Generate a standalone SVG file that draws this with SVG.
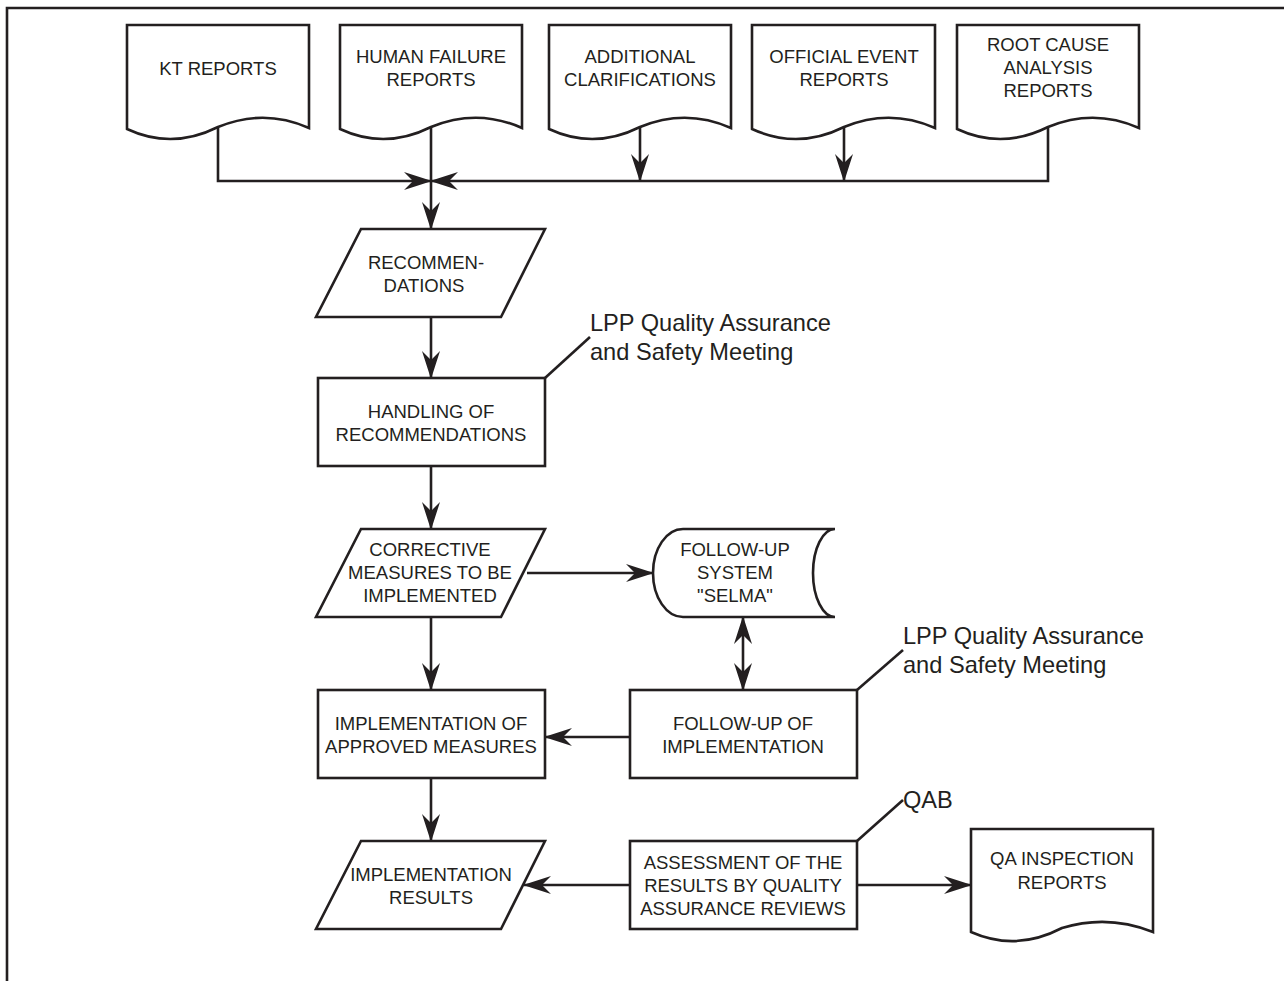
<svg xmlns="http://www.w3.org/2000/svg" width="1284" height="981" viewBox="0 0 1284 981">
<style>
.s{fill:#fff;stroke:#231f20;stroke-width:2.6;stroke-linejoin:miter}
.c{fill:none;stroke:#231f20;stroke-width:2.6}
.t{font-family:"Liberation Sans",Arial,sans-serif;font-size:18.5px;fill:#231f20;text-anchor:middle}
.a{font-family:"Liberation Sans",Arial,sans-serif;font-size:23.6px;fill:#231f20}
</style>
<defs>
<marker id="ah" markerUnits="userSpaceOnUse" markerWidth="28" markerHeight="18" viewBox="0 0 28 18" refX="27" refY="9" orient="auto-start-reverse">
<path d="M0,0 L28,9 L0,18 L9,9 Z" fill="#231f20"/>
</marker>
</defs>
<rect width="1284" height="981" fill="#fff"/>
<path class="c" d="M7,981 V8 H1284"/>
<g id="connectors">
<path class="c" d="M218,128 V181 H431" marker-end="url(#ah)"/>
<path class="c" d="M1048,128 V181 H431" marker-end="url(#ah)"/>
<path class="c" d="M431,127 V229" marker-end="url(#ah)"/>
<path class="c" d="M640,127 V181" marker-end="url(#ah)"/>
<path class="c" d="M844,127 V181" marker-end="url(#ah)"/>
<path class="c" d="M431,317 V378" marker-end="url(#ah)"/>
<path class="c" d="M431,466 V529" marker-end="url(#ah)"/>
<path class="c" d="M527,573 H653" marker-end="url(#ah)"/>
<path class="c" d="M743,617 V690" marker-start="url(#ah)" marker-end="url(#ah)"/>
<path class="c" d="M431,617 V690" marker-end="url(#ah)"/>
<path class="c" d="M630,737 H545" marker-end="url(#ah)"/>
<path class="c" d="M431,778 V841" marker-end="url(#ah)"/>
<path class="c" d="M630,885 H524" marker-end="url(#ah)"/>
<path class="c" d="M857,885 H971" marker-end="url(#ah)"/>
<path class="c" d="M545,378 L590,337"/>
<path class="c" d="M857,690 L903,650"/>
<path class="c" d="M857,841 L903,800"/>
</g>
<g id="kt-reports">
<path class="s" d="M127,25 H309 V128 Q264,108 218,127 Q172,150 127,129 Z"/>
<text class="t" x="218" y="75">KT REPORTS</text>
</g>
<g id="human-failure-reports">
<path class="s" d="M340,25 H522 V128 Q477,108 431,127 Q385,150 340,129 Z"/>
<text class="t" x="431" y="63">HUMAN FAILURE</text>
<text class="t" x="431" y="86">REPORTS</text>
</g>
<g id="additional-clarifications">
<path class="s" d="M549,25 H731 V128 Q686,108 640,127 Q594,150 549,129 Z"/>
<text class="t" x="640" y="63">ADDITIONAL</text>
<text class="t" x="640" y="86">CLARIFICATIONS</text>
</g>
<g id="official-event-reports">
<path class="s" d="M752,25 H935 V128 Q890,108 844,127 Q798,150 752,129 Z"/>
<text class="t" x="844" y="63">OFFICIAL EVENT</text>
<text class="t" x="844" y="86">REPORTS</text>
</g>
<g id="root-cause-analysis-reports">
<path class="s" d="M957,25 H1139 V128 Q1094,108 1048,127 Q1002,150 957,129 Z"/>
<text class="t" x="1048" y="51">ROOT CAUSE</text>
<text class="t" x="1048" y="74">ANALYSIS</text>
<text class="t" x="1048" y="97">REPORTS</text>
</g>
<g id="recommendations">
<path class="s" d="M361,229 H545 L501,317 H316 Z"/>
<text class="t" x="426" y="269">RECOMMEN-</text>
<text class="t" x="424" y="292">DATIONS</text>
</g>
<g id="handling">
<rect class="s" x="318" y="378" width="227" height="88"/>
<text class="t" x="431" y="418">HANDLING OF</text>
<text class="t" x="431" y="441">RECOMMENDATIONS</text>
</g>
<g id="note-lpp-1">
<text class="a" x="590" y="331">LPP Quality Assurance</text>
<text class="a" x="590" y="360">and Safety Meeting</text>
</g>
<g id="corrective-measures">
<path class="s" d="M361,529 H545 L501,617 H316 Z"/>
<text class="t" x="430" y="556">CORRECTIVE</text>
<text class="t" x="430" y="579">MEASURES TO BE</text>
<text class="t" x="430" y="602">IMPLEMENTED</text>
</g>
<g id="selma">
<path class="s" d="M683,529 H835 A22,44 0 0 0 835,617 H683 A30,44 0 0 1 683,529 Z"/>
<text class="t" x="735" y="556">FOLLOW-UP</text>
<text class="t" x="735" y="579">SYSTEM</text>
<text class="t" x="735" y="602">"SELMA"</text>
</g>
<g id="implementation-approved">
<rect class="s" x="318" y="690" width="227" height="88"/>
<text class="t" x="431" y="730">IMPLEMENTATION OF</text>
<text class="t" x="431" y="753">APPROVED MEASURES</text>
</g>
<g id="follow-up-implementation">
<rect class="s" x="630" y="690" width="227" height="88"/>
<text class="t" x="743" y="730">FOLLOW-UP OF</text>
<text class="t" x="743" y="753">IMPLEMENTATION</text>
</g>
<g id="note-lpp-2">
<text class="a" x="903" y="644">LPP Quality Assurance</text>
<text class="a" x="903" y="673">and Safety Meeting</text>
</g>
<g id="implementation-results">
<path class="s" d="M361,841 H545 L501,929 H316 Z"/>
<text class="t" x="431" y="881">IMPLEMENTATION</text>
<text class="t" x="431" y="904">RESULTS</text>
</g>
<g id="assessment">
<rect class="s" x="630" y="841" width="227" height="88"/>
<text class="t" x="743" y="869">ASSESSMENT OF THE</text>
<text class="t" x="743" y="892">RESULTS BY QUALITY</text>
<text class="t" x="743" y="915">ASSURANCE REVIEWS</text>
</g>
<g id="note-qab">
<text class="a" x="903" y="808">QAB</text>
</g>
<g id="qa-inspection-reports">
<path class="s" d="M971,829 H1153 V932 Q1108,914 1062,928 Q1016,952 971,932 Z"/>
<text class="t" x="1062" y="865">QA INSPECTION</text>
<text class="t" x="1062" y="889">REPORTS</text>
</g>
</svg>
